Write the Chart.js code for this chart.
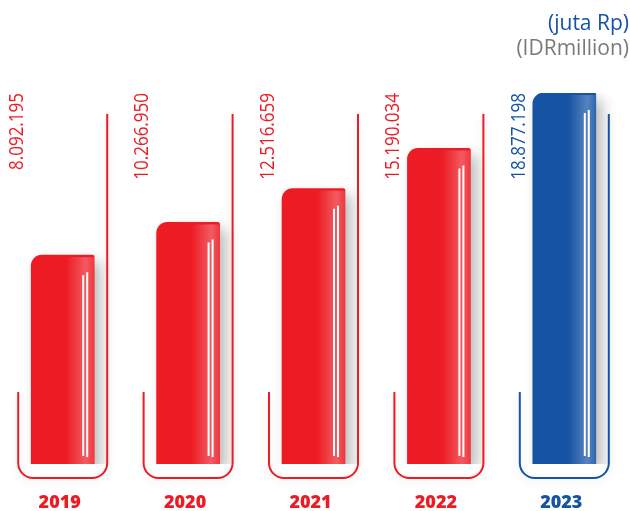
<!DOCTYPE html>
<html>
<head>
<meta charset="utf-8">
<script src="https://cdn.jsdelivr.net/npm/chart.js@4"></script>
<style>
  html, body { margin: 0; padding: 0; background: #fff; }
  canvas { display: block; }
</style>
</head>
<body>
<canvas id="revChart" width="630" height="511"></canvas>
<script>
const years = ['2019', '2020', '2021', '2022', '2023'];
const values = [8092195, 10266950, 12516659, 15190034, 18877198];
const barColors = ['#ed1c24', '#ed1c24', '#ed1c24', '#ed1c24', '#1553a5'];
const unitLines = ['(juta Rp)', '(IDRmillion)'];
const yMin = -5800000;
const yMax = 18877198;

const fmt = v => String(v).replace(/\B(?=(\d{3})+(?!\d))/g, '.');

// soft drop shadow under the bars
const shadowPlugin = {
    id: 'shadowPlugin',
    beforeDatasetsDraw(chart) {
        const ctx = chart.ctx;
        ctx.save();
        ctx.shadowColor = 'rgba(0,0,0,0.28)';
        ctx.shadowBlur = 14;
        ctx.shadowOffsetX = 6;
        ctx.shadowOffsetY = 7;
    },
    afterDatasetsDraw(chart) {
        chart.ctx.restore();
    }
};

// frames, glossy edge, white stripes, value and year labels
const decoPlugin = {
    id: 'decoPlugin',
    afterDatasetsDraw(chart) {
        const ctx = chart.ctx;
        const bars = chart.getDatasetMeta(0).data;
        ctx.save();

        bars.forEach((bar, i) => {
            const color = barColors[i];
            const left = bar.x - bar.width / 2;
            const right = bar.x + bar.width / 2;
            const top = bar.y;
            const base = bar.base;

            // light edge on the right side of the bar
            const g = ctx.createLinearGradient(right - 28, 0, right, 0);
            g.addColorStop(0, 'rgba(255,255,255,0)');
            g.addColorStop(0.7, 'rgba(255,255,255,0.28)');
            g.addColorStop(1, 'rgba(255,255,255,0.12)');
            ctx.fillStyle = g;
            ctx.fillRect(right - 28, top + 2, 28, base - top - 2);

            // two white stripes
            ctx.strokeStyle = '#fff';
            ctx.lineWidth = 2;
            ctx.beginPath();
            ctx.moveTo(right - 11, top + 20);
            ctx.lineTo(right - 11, base - 8);
            ctx.moveTo(right - 7, top + 17);
            ctx.lineTo(right - 7, base - 7);
            ctx.stroke();

            // U shaped frame around the bar
            const fl = left - 13;
            const fr = right + 13;
            const fb = base + 14;
            const r = 15;
            ctx.save();
            ctx.shadowColor = 'rgba(0,0,0,0.12)';
            ctx.shadowBlur = 8;
            ctx.shadowOffsetY = 3;
            ctx.strokeStyle = color;
            ctx.lineWidth = 2;
            ctx.beginPath();
            ctx.moveTo(fl, 392);
            ctx.lineTo(fl, fb - r);
            ctx.arcTo(fl, fb, fl + r, fb, r);
            ctx.lineTo(fr - r, fb);
            ctx.arcTo(fr, fb, fr, fb - r, r);
            ctx.lineTo(fr, 114);
            ctx.stroke();
            ctx.restore();

            // value label, reading upwards
            ctx.save();
            ctx.font = '20px "Open Sans"';
            const sx = 77 / ctx.measureText('8.092.195').width;
            ctx.translate(fl - 1, 93);
            ctx.rotate(-Math.PI / 2);
            ctx.scale(sx, 1);
            ctx.fillStyle = color;
            ctx.textAlign = 'right';
            ctx.textBaseline = 'middle';
            ctx.fillText(fmt(values[i]), 0, 0);
            ctx.restore();

            // year under the frame
            ctx.font = '800 18px "Open Sans"';
            ctx.fillStyle = color;
            ctx.textAlign = 'center';
            ctx.textBaseline = 'middle';
            ctx.fillText(years[i], bar.x - 3, 503);
        });

        // unit note
        ctx.textAlign = 'right';
        ctx.textBaseline = 'middle';
        ctx.font = '21px "Open Sans"';
        ctx.fillStyle = '#1553a5';
        ctx.fillText(unitLines[0], 629, 24);
        ctx.fillStyle = '#7a7a7a';
        ctx.fillText(unitLines[1], 629, 49);

        ctx.restore();
    }
};

const ctx = document.getElementById('revChart').getContext('2d');
new Chart(ctx, {
    type: 'bar',
    data: {
        labels: years,
        datasets: [{
            data: values,
            backgroundColor: barColors,
            base: yMin,
            barThickness: 63,
            borderRadius: { topLeft: 11, topRight: 2, bottomLeft: 0, bottomRight: 0 },
            borderSkipped: 'start'
        }]
    },
    options: {
        responsive: false,
        animation: false,
        events: [],
        layout: {
            padding: { top: 93, bottom: 47, left: -3, right: 3 }
        },
        scales: {
            x: { display: false },
            y: { display: false, min: yMin, max: yMax }
        },
        plugins: {
            legend: { display: false },
            tooltip: { enabled: false }
        }
    },
    plugins: [shadowPlugin, decoPlugin]
});
</script>
</body>
</html>
